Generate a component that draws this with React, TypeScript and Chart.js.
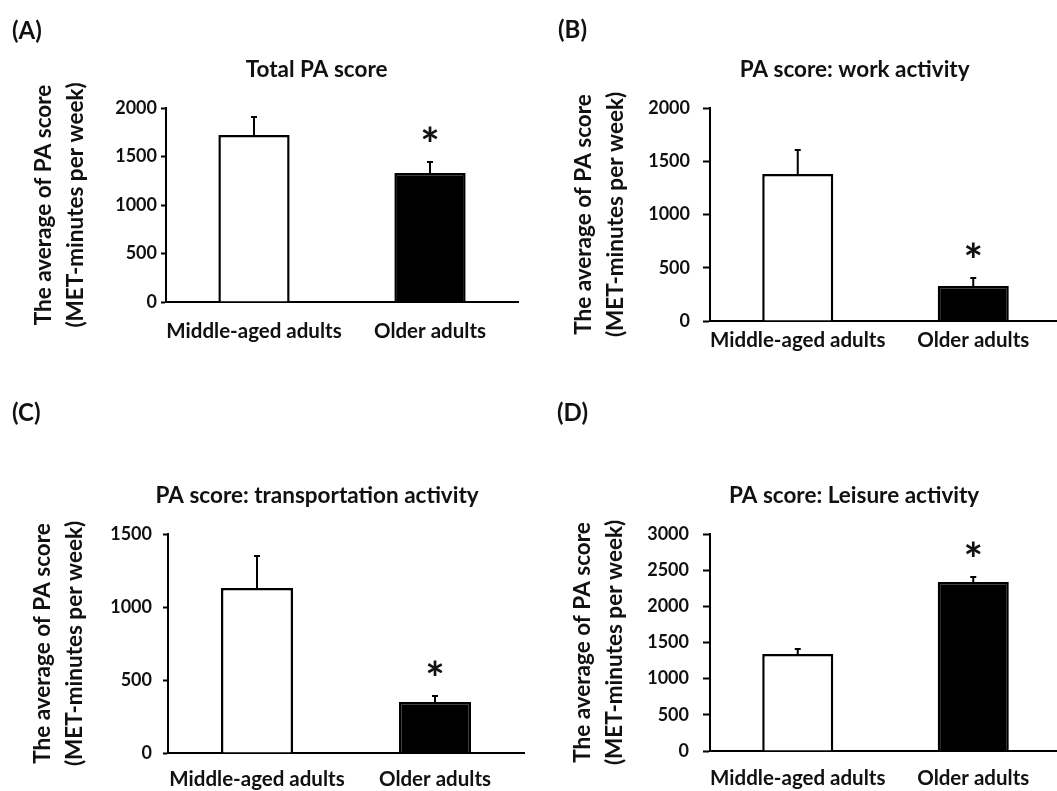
import React, { useEffect, useRef } from 'react';
import { Chart, registerables } from 'chart.js';

Chart.register(...registerables);

// ---------- data ----------
const categories = ['Middle-aged adults', 'Older adults'];
const panelLabels = ['(A)', '(B)', '(C)', '(D)'];
const panelTitles = [
  'Total PA score',
  'PA score: work activity',
  'PA score: transportation activity',
  'PA score: Leisure activity',
];
const yAxisTitle = ['The average of PA score', '(MET-minutes per week)'];

const totalMeans = [1722, 1330];
const totalErrors = [185, 113];
const workMeans = [1380, 329];
const workErrors = [226, 75];
const transportMeans = [1130, 349];
const transportErrors = [219, 41];
const leisureMeans = [1341, 2336];
const leisureErrors = [69, 69];
const significant = [false, true];
const yMaxes = [2000, 2000, 1500, 3000];
const yStep = 500;

const barFills = ['#ffffff', '#000000'];
const FONT = 'Lato';
const TEXT = '#111111';

// ---------- layout (styles/positions) ----------
type Layout = {
  left: number; top: number; width: number; height: number;
  padTop: number; padRight: number; padBottom: number;
  yWidth: number; titlePad: number; tickLen: number; tickPad: number; xPad: number;
  labelLeft: number; labelTop: number;
};

const layouts: Layout[] = [
  { left: 0, top: 0, width: 530, height: 380, padTop: 108, padRight: 12, padBottom: 38, yWidth: 166, titlePad: 28, tickLen: 5, tickPad: 4, xPad: 17, labelLeft: 12, labelTop: 18 },
  { left: 530, top: 0, width: 531, height: 380, padTop: 108, padRight: 0, padBottom: 19, yWidth: 180, titlePad: 38, tickLen: 7, tickPad: 13, xPad: 7, labelLeft: 558, labelTop: 17 },
  { left: 0, top: 380, width: 530, height: 430, padTop: 154, padRight: 6, padBottom: 17, yWidth: 168, titlePad: 27, tickLen: 5, tickPad: 11, xPad: 14, labelLeft: 12, labelTop: 400 },
  { left: 530, top: 380, width: 531, height: 430, padTop: 154, padRight: 0, padBottom: 19, yWidth: 180, titlePad: 37, tickLen: 7, tickPad: 14, xPad: 15, labelLeft: 557, labelTop: 400 },
];

const panelMeans = [totalMeans, workMeans, transportMeans, leisureMeans];
const panelErrors = [totalErrors, workErrors, transportErrors, leisureErrors];

// ---------- plugins ----------
const errorBarPlugin = {
  id: 'errorBars',
  afterDatasetsDraw(chart: any, _args: any, opts: any) {
    const { ctx } = chart;
    const yScale = chart.scales.y;
    const meta = chart.getDatasetMeta(0);
    const values = chart.data.datasets[0].data as number[];
    const errs: number[] = opts.errors || [];
    const sig: boolean[] = opts.sig || [];
    ctx.save();
    meta.data.forEach((bar: any, i: number) => {
      const top = yScale.getPixelForValue(values[i] + errs[i]);
      ctx.strokeStyle = '#000';
      ctx.lineWidth = 2;
      ctx.beginPath();
      ctx.moveTo(bar.x, bar.y);
      ctx.lineTo(bar.x, top);
      ctx.moveTo(bar.x - 3, top);
      ctx.lineTo(bar.x + 3, top);
      ctx.stroke();
      if (sig[i]) {
        ctx.font = `bold 46px ${FONT}`;
        ctx.fillStyle = TEXT;
        ctx.textAlign = 'center';
        ctx.textBaseline = 'alphabetic';
        const m = ctx.measureText('*');
        const cy = top - 28;
        const base = cy + (m.actualBoundingBoxAscent - m.actualBoundingBoxDescent) / 2;
        ctx.fillText('*', bar.x, base);
      }
    });
    ctx.restore();
  },
};

const panelTitlePlugin = {
  id: 'panelTitle',
  afterDraw(chart: any, _args: any, opts: any) {
    const { ctx, chartArea } = chart;
    const yScale = chart.scales.y;
    const yOpts = yScale.options;
    ctx.save();
    ctx.font = `bold ${yOpts.ticks.font.size}px ${FONT}`;
    let widest = 0;
    yScale.ticks.forEach((t: any) => {
      widest = Math.max(widest, ctx.measureText(String(t.value)).width);
    });
    const labelLeft = chartArea.left - yOpts.grid.tickLength - yOpts.ticks.padding - widest;
    const cx = (labelLeft + chartArea.right) / 2;
    ctx.font = `bold ${opts.size}px ${FONT}`;
    ctx.fillStyle = TEXT;
    ctx.textAlign = 'center';
    ctx.textBaseline = 'middle';
    ctx.fillText(opts.text, cx, chartArea.top - 38);
    ctx.restore();
  },
};

function Panel({ index }: { index: number }) {
  const ref = useRef<HTMLCanvasElement>(null);
  const L = layouts[index];
  useEffect(() => {
    if (!ref.current) return;
    const chart = new Chart(ref.current, {
      type: 'bar',
      data: {
        labels: categories,
        datasets: [
          {
            data: panelMeans[index],
            backgroundColor: barFills,
            borderColor: '#000',
            borderWidth: 2.5,
            barPercentage: 0.405,
            categoryPercentage: 1,
          },
        ],
      },
      options: {
        responsive: false,
        animation: false,
        devicePixelRatio: 1,
        layout: { padding: { top: L.padTop, right: L.padRight, bottom: L.padBottom, left: 0 } },
        plugins: {
          legend: { display: false },
          tooltip: { enabled: false },
          title: { display: false },
          errorBars: { errors: panelErrors[index], sig: significant },
          panelTitle: { text: panelTitles[index], size: 22.5 },
        } as any,
        scales: {
          x: {
            grid: { display: false, drawTicks: false },
            border: { display: true, color: '#000', width: 2 },
            ticks: {
              color: TEXT,
              padding: L.xPad,
              maxRotation: 0,
              minRotation: 0,
              autoSkip: false,
              font: { family: FONT, weight: 'bold', size: 20.5 },
            },
            afterFit: (s: any) => { s.height = 40; },
          },
          y: {
            min: 0,
            max: yMaxes[index],
            ticks: {
              stepSize: yStep,
              color: TEXT,
              padding: L.tickPad,
              font: { family: FONT, weight: 'bold', size: 18 },
              callback: (v: any) => String(v),
            },
            grid: { drawOnChartArea: false, drawTicks: true, tickLength: L.tickLen, tickWidth: 2, tickColor: '#000', color: '#000' },
            border: { display: true, color: '#000', width: 2 },
            title: {
              display: true,
              text: yAxisTitle,
              color: TEXT,
              font: { family: FONT, weight: 'bold', size: 22.5, lineHeight: 1.4 },
              padding: { top: L.titlePad, bottom: 0 },
            },
            afterFit: (s: any) => { s.width = L.yWidth; },
          },
        },
      } as any,
      plugins: [errorBarPlugin, panelTitlePlugin],
    });
    return () => chart.destroy();
  }, [index]);
  return (
    <canvas
      ref={ref}
      width={L.width}
      height={L.height}
      style={{ position: 'absolute', left: L.left, top: L.top, width: L.width, height: L.height }}
    />
  );
}

export default function App() {
  return (
    <div style={{ position: 'fixed', left: 0, top: 0, width: 1057, height: 791, overflow: 'hidden', background: '#fff' }}>
      {layouts.map((_, i) => (
        <Panel key={i} index={i} />
      ))}
      {layouts.map((L, i) => (
        <div
          key={'lbl' + i}
          style={{ position: 'absolute', left: L.labelLeft, top: L.labelTop, font: `bold 24px ${FONT}`, lineHeight: '24px', color: TEXT }}
        >
          {panelLabels[i]}
        </div>
      ))}
    </div>
  );
}
